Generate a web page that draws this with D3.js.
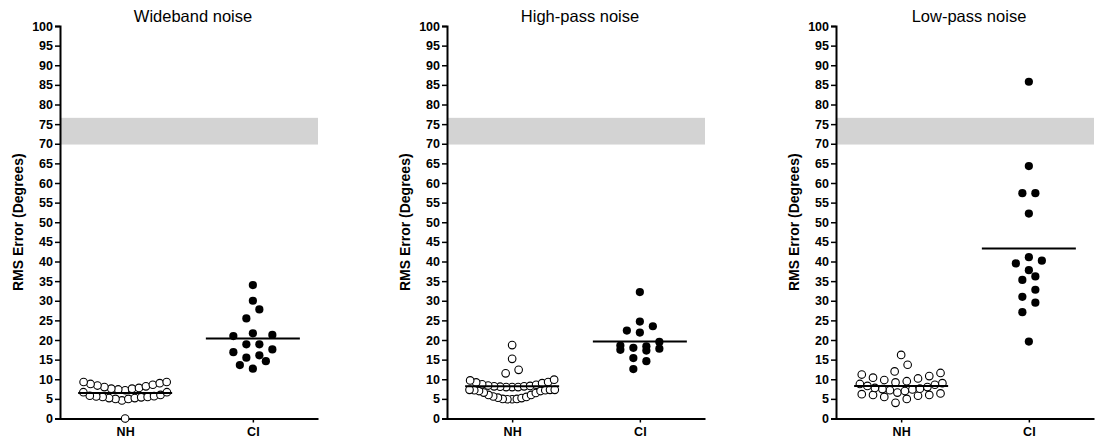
<!DOCTYPE html>
<html>
<head>
<meta charset="utf-8">
<script src="https://cdn.jsdelivr.net/npm/d3@7"></script>
<style>
  html, body { margin: 0; padding: 0; background: #fff; }
  svg { display: block; font-family: "Liberation Sans", Arial, sans-serif; }
</style>
</head>
<body>
<div id="chart"></div>
<script>
// ── Data ─────────────────────────────────────────────────────────────────
const TITLES = ['Wideband noise', 'High-pass noise', 'Low-pass noise'];
const GROUPS = ['NH', 'CI'];
const Y_TICKS = d3.range(0, 101, 5);
const BAND = [69.8, 76.6];   // grey chance band

const NH_WIDE = [0.0,
  4.6, 5.0, 5.0, 5.2, 5.2, 5.4, 5.5, 5.5, 5.6, 5.7, 5.8, 6.0, 6.7, 6.7,
  7.2, 7.4, 7.6, 7.6, 7.8, 8.0, 8.2, 8.4, 8.6, 8.8, 9.0, 9.3, 9.3];
const CI_WIDE = [12.7, 13.6, 14.6, 15.5, 16.1, 16.9, 17.6, 18.9, 18.9,
  21.0, 21.3, 21.7, 25.5, 27.8, 30.0, 34.0];

const NH_HIGH = [
  4.9, 4.9, 5.0, 5.0, 5.2, 5.3, 5.5, 5.6, 6.0, 6.0, 6.5, 6.6, 7.0, 7.0, 7.2, 7.2, 7.3, 7.3, 7.3,
  8.0, 8.0, 8.0, 8.1, 8.2, 8.2, 8.3, 8.4, 8.6, 8.7, 9.0, 9.2, 9.3, 9.7, 9.9,
  11.5, 12.4, 15.2, 18.7];
const CI_HIGH = [12.6, 14.6, 15.4, 17.3, 17.5, 17.8, 18.0, 18.4, 18.6, 19.5,
  21.9, 22.4, 23.5, 24.7, 32.2];

const NH_LOW = [4.0, 5.0, 5.5, 5.8, 6.0, 6.0, 6.2, 6.4, 6.6,
  7.0, 7.2, 7.4, 7.5, 7.6, 7.8, 8.0, 8.3, 8.6, 8.8, 9.0, 9.2, 9.5,
  9.8, 10.2, 10.4, 10.8, 11.2, 11.6, 12.0, 13.7, 16.2];
const CI_LOW = [19.6, 27.1, 29.5, 31.0, 32.8, 35.3, 36.2, 37.8, 39.5, 40.2, 41.1,
  52.2, 57.4, 57.4, 64.3, 85.8];

const NH_MEAN = [6.5, 8.2, 8.3];
const CI_MEAN = [20.4, 19.6, 43.3];

const NH_SERIES = [NH_WIDE, NH_HIGH, NH_LOW];
const CI_SERIES = [CI_WIDE, CI_HIGH, CI_LOW];

// ── Layout ───────────────────────────────────────────────────────────────
const W = 1098, H = 443;
const AXIS_X = [60, 447, 836];
const PANEL_W = 258;
const TOP = 26, BOTTOM = 418.5;
const R = 3.8;
const BIN = 2.5;          // value range stacked into one row
const ROW_W = 90;         // max spread of a row in px
const MAX_STEP = 13;

const svg = d3.select('#chart').append('svg')
  .attr('width', W).attr('height', H)
  .attr('viewBox', `0 0 ${W} ${H}`);

const y = d3.scaleLinear().domain([0, 100]).range([BOTTOM, TOP]);

// GraphPad-style scatter: group close values into rows,
// spread lowest in the middle, higher ones outward
function swarm(values) {
  const sorted = values.slice().sort((a, b) => a - b);
  const rows = [];
  let cur = null;
  sorted.forEach(v => {
    if (!cur || v - cur.start >= BIN) { cur = { start: v, vals: [] }; rows.push(cur); }
    cur.vals.push(v);
  });
  const out = [];
  rows.forEach(row => {
    const n = row.vals.length;
    const step = Math.min(MAX_STEP, ROW_W / n);
    // slots ordered centre-out, alternating left/right
    const slots = d3.range(n).map(i => (i - (n - 1) / 2) * step)
      .sort((a, b) => Math.abs(a) - Math.abs(b) || a - b);
    row.vals.forEach((v, i) => out.push({ v, dx: slots[i] }));
  });
  return out;
}

TITLES.forEach((title, p) => {
  const ax = AXIS_X[p];
  const g = svg.append('g');

  const x = d3.scalePoint().domain(GROUPS)
    .range([ax, ax + PANEL_W]).padding(0.51);

  // grey band
  g.append('rect')
    .attr('x', ax).attr('width', PANEL_W)
    .attr('y', y(BAND[1])).attr('height', y(BAND[0]) - y(BAND[1]))
    .attr('fill', '#d3d3d3');

  // y axis
  g.append('g')
    .attr('transform', `translate(${ax},0)`)
    .call(d3.axisLeft(y).tickValues(Y_TICKS).tickSize(5).tickPadding(2))
    .call(a => a.select('.domain').attr('stroke', '#000').attr('stroke-width', 2))
    .call(a => a.selectAll('.tick line').attr('stroke', '#000').attr('stroke-width', 1.5))
    .call(a => a.selectAll('text').attr('font-size', 12.5).attr('font-weight', 700)
      .attr('fill', '#000').attr('font-family', '"Liberation Sans", Arial, sans-serif'));

  // x axis
  g.append('g')
    .attr('transform', `translate(0,${BOTTOM})`)
    .call(d3.axisBottom(x).tickSize(4).tickPadding(5).tickSizeOuter(0))
    .call(a => a.select('.domain').attr('stroke', '#000').attr('stroke-width', 2))
    .call(a => a.selectAll('.tick line').attr('stroke', '#000').attr('stroke-width', 1.5))
    .call(a => a.selectAll('text').attr('font-size', 12.5).attr('font-weight', 700)
      .attr('fill', '#000').attr('font-family', '"Liberation Sans", Arial, sans-serif'));

  // title
  g.append('text')
    .attr('x', ax + PANEL_W / 2 + 4).attr('y', 22)
    .attr('text-anchor', 'middle')
    .attr('font-size', 16.5)
    .text(title);

  // y label
  g.append('text')
    .attr('transform', `translate(${ax - 42},${(TOP + BOTTOM) / 2}) rotate(-90)`)
    .attr('dy', '0.35em')
    .attr('text-anchor', 'middle')
    .attr('font-size', 14).attr('font-weight', 700)
    .text('RMS Error (Degrees)');

  // NH open circles
  g.selectAll('.nh')
    .data(swarm(NH_SERIES[p]))
    .enter().append('circle')
    .attr('cx', d => x('NH') + d.dx)
    .attr('cy', d => y(d.v))
    .attr('r', R)
    .attr('fill', '#fff')
    .attr('stroke', '#000')
    .attr('stroke-width', 1.1);

  // CI filled circles
  g.selectAll('.ci')
    .data(swarm(CI_SERIES[p]))
    .enter().append('circle')
    .attr('cx', d => x('CI') + d.dx)
    .attr('cy', d => y(d.v))
    .attr('r', R + 0.3)
    .attr('fill', '#000');

  // mean lines
  [['NH', NH_MEAN[p]], ['CI', CI_MEAN[p]]].forEach(([grp, m]) => {
    g.append('line')
      .attr('x1', x(grp) - 47).attr('x2', x(grp) + 47)
      .attr('y1', y(m)).attr('y2', y(m))
      .attr('stroke', '#000').attr('stroke-width', 2);
  });
});
</script>
</body>
</html>
